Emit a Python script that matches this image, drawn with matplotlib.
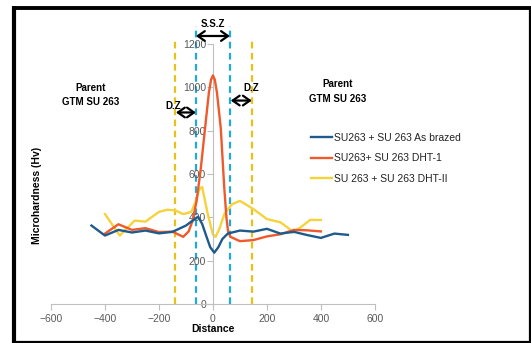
import matplotlib
matplotlib.use("Agg")
import matplotlib.pyplot as plt
from matplotlib.lines import Line2D

plt.rcParams['font.family'] = ['Liberation Sans', 'DejaVu Sans']

# ---- data ----
blue_x = [-450, -400, -350, -300, -250, -200, -150, -100, -75, -55, -40, -25, -10, 5, 20, 35, 55, 100, 150, 200, 250, 300, 350, 400, 450, 500]
blue_y = [362, 316, 342, 330, 339, 326, 333, 362, 385, 403, 370, 315, 262, 237, 262, 300, 325, 339, 334, 347, 325, 333, 318, 305, 325, 319]

red_x = [-400, -350, -300, -250, -200, -150, -110, -90, -75, -60, -45, -25, -15, -7, 0, 7, 15, 29, 42, 50, 56, 65, 100, 150, 200, 250, 300, 350, 400]
red_y = [325, 368, 342, 350, 332, 334, 310, 335, 385, 480, 625, 860, 975, 1035, 1055, 1035, 975, 812, 537, 400, 335, 310, 290, 295, 312, 322, 342, 340, 335]

yel_x = [-400, -375, -345, -310, -290, -250, -200, -170, -140, -110, -80, -65, -50, -40, -20, 0, 10, 25, 42, 70, 100, 150, 200, 250, 280, 295, 325, 360, 400]
yel_y = [415, 370, 316, 360, 385, 380, 425, 435, 432, 415, 425, 470, 530, 540, 420, 320, 310, 350, 415, 460, 476, 438, 392, 377, 350, 330, 354, 388, 388]

series_labels = ["SU263 + SU 263 As brazed", "SU263+ SU 263 DHT-1", "SU 263 + SU 263 DHT-II"]
x_ticks = [-600, -400, -200, 0, 200, 400, 600]
y_ticks = [0, 200, 400, 600, 800, 1000, 1200]
dz_lines = [-140, 145]
ssz_lines = [-63, 63]

c_blue = "#1F5A8C"
c_red = "#EE5A2C"
c_yel = "#F5D33C"
c_dash_y = "#E8C21A"
c_dash_c = "#22A9D9"
gray = "#595959"
axis_gray = "#BFBFBF"

W, H = 531, 343
fig = plt.figure(figsize=(W / 100, H / 100), dpi=100)
ax = fig.add_axes([0.096, 0.1137, 0.610, 0.758])
ax.set_xlim(-600, 600)
ax.set_ylim(0, 1200)

# dashed zone lines
for xv in dz_lines:
    ax.plot([xv, xv], [0, 1225], color=c_dash_y, lw=1.6, ls=(0, (3, 2)), clip_on=False, zorder=1)
for xv in ssz_lines:
    ax.plot([xv, xv], [0, 1285], color=c_dash_c, lw=1.6, ls=(0, (3, 2)), clip_on=False, zorder=1)

l1, = ax.plot(blue_x, blue_y, color=c_blue, lw=1.7, zorder=4, solid_joinstyle='round')
l2, = ax.plot(red_x, red_y, color=c_red, lw=1.7, zorder=3, solid_joinstyle='round')
l3, = ax.plot(yel_x, yel_y, color=c_yel, lw=1.7, zorder=2, solid_joinstyle='round')

# axes styling
ax.spines['top'].set_visible(False)
ax.spines['right'].set_visible(False)
ax.spines['left'].set_position(('data', 0))
for s in ['left', 'bottom']:
    ax.spines[s].set_color(axis_gray)
    ax.spines[s].set_linewidth(0.8)
ax.set_xticks(x_ticks)
ax.set_yticks(y_ticks)
ax.tick_params(axis='both', colors=axis_gray, labelcolor=gray, labelsize=7.5, length=4, width=0.8, direction='out')
ax.tick_params(axis='x', pad=3)
ax.tick_params(axis='y', pad=1)

ax.set_xlabel("Distance", fontsize=7.5, fontweight='bold', labelpad=0)
fig.text(0.070, 0.43, "Microhardness (Hv)", rotation=90, fontsize=7.5, fontweight='bold', ha='center', va='center')

# annotations
arrow_kw = dict(arrowstyle='<->,head_length=0.5,head_width=0.35', color='black', lw=1.6,
                mutation_scale=10, shrinkA=0, shrinkB=0)
ax.annotate("", xy=(-63, 1237), xytext=(63, 1237), arrowprops=arrow_kw, annotation_clip=False)
ax.text(0, 1292, "S.S.Z", fontsize=7, fontweight='bold', ha='center', va='center')
ax.annotate("", xy=(-137, 884), xytext=(-63, 884), arrowprops=arrow_kw, annotation_clip=False)
ax.text(-147, 916, "D.Z", fontsize=7, fontweight='bold', ha='center', va='center')
ax.annotate("", xy=(66, 939), xytext=(144, 939), arrowprops=arrow_kw, annotation_clip=False)
ax.text(140, 999, "D.Z", fontsize=7, fontweight='bold', ha='center', va='center')

ax.text(-453, 999, "Parent", fontsize=7, fontweight='bold', ha='center', va='center')
ax.text(-453, 934, "GTM SU 263", fontsize=7, fontweight='bold', ha='center', va='center')
ax.text(463, 1017, "Parent", fontsize=7, fontweight='bold', ha='center', va='center')
ax.text(463, 944, "GTM SU 263", fontsize=7, fontweight='bold', ha='center', va='center')

leg = fig.legend([l1, l2, l3], series_labels, loc='upper left', bbox_to_anchor=(0.578, 0.625),
                 frameon=False, fontsize=7.5, handlelength=2.0, handletextpad=0.2,
                 labelspacing=1.0, borderaxespad=0)
for t in leg.get_texts():
    t.set_color('#222222')

# outer frame (pixel positions converted to figure fractions)
def fx(p):
    return p / W

def fy(p):
    return 1 - p / H

frame = [
    ((14, 14), (6, 343), 3.0),     # left, thick
    ((12, 531), (8, 8), 2.8),      # top
    ((530, 530), (7, 343), 1.6),   # right
    ((12, 531), (342, 342), 1.6),  # bottom
]
for (xs, ys, lw) in frame:
    fig.add_artist(Line2D([fx(xs[0]), fx(xs[1])], [fy(ys[0]), fy(ys[1])], transform=fig.transFigure,
                          color='black', lw=lw, solid_capstyle='butt'))

fig.savefig("out.png", dpi=100)
